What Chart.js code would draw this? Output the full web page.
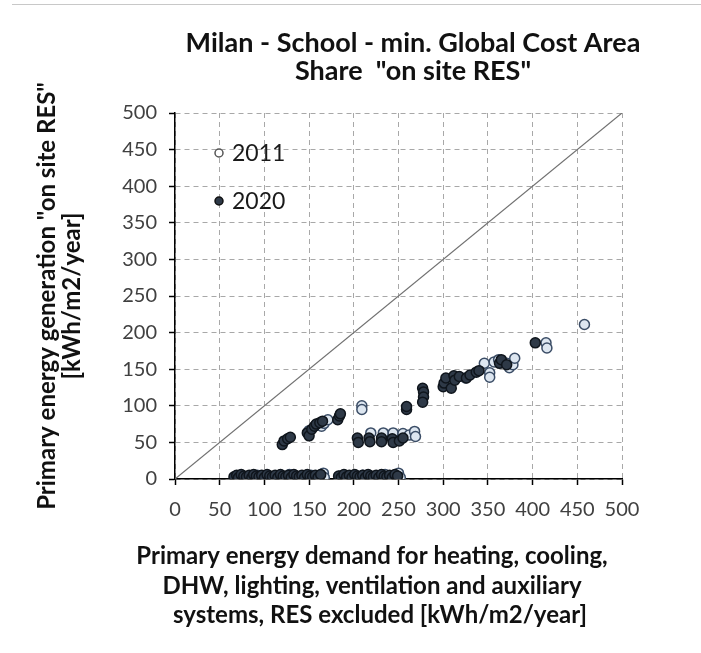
<!DOCTYPE html>
<html><head><meta charset="utf-8">
<script src="https://cdn.jsdelivr.net/npm/chart.js@4"></script>
<style>
html,body{margin:0;padding:0;background:#fff;}
#wrap{position:relative;width:701px;height:653px;}
#topline{position:absolute;left:12px;right:0;top:4px;height:1px;background:#c8c8c8;}
canvas{position:absolute;left:0;top:0;}
</style></head><body>
<div id="wrap"><canvas id="c" width="701" height="653"></canvas><div id="topline"></div></div>
<script>
const titleLines = ['Milan - School - min. Global Cost Area', 'Share  "on site RES"'];
const xTitleLines = ['Primary energy demand for heating, cooling,', 'DHW, lighting, ventilation and auxiliary', 'systems, RES excluded [kWh/m2/year]'];
const yTitleLines = ['Primary energy generation "on site RES"', '[kWh/m2/year]'];
const seriesNames = ['2011', '2020'];
const axisTicks = [0, 50, 100, 150, 200, 250, 300, 350, 400, 450, 500];
const diagonal = [0, 500];

const x2011 = [70, 80, 92, 104, 117, 128, 140, 152, 160, 166, 167, 185, 197, 210, 222, 235, 245, 250, 252,
  150, 160, 164, 167, 171, 209, 209, 219, 233, 244, 255, 262, 268, 269,
  325, 346, 352, 352, 357, 362, 371, 374, 378, 380, 415, 416, 458];
const y2011 = [4, 3, 5, 2, 4, 6, 3, 5, 4, 8, 2, 4, 3, 5, 2, 6, 4, 8, 2,
  66, 74, 72, 76, 81, 100, 95, 63, 63, 63, 62, 60, 65, 58,
  138, 158, 145, 139, 160, 163, 158, 152, 156, 165, 186, 179, 211];

const x2020 = [66, 69, 71, 74, 77, 80, 83, 86, 88, 91, 94, 97, 100, 103, 106, 109, 112, 115, 118, 121, 124, 127, 130, 133, 136, 139, 142, 145, 148, 151, 154, 157, 160, 163,
  183, 186, 189, 192, 195, 198, 201, 204, 207, 210, 213, 216, 219, 222, 225, 228, 231, 234, 237, 240, 243, 246, 249,
  120, 122, 126, 129, 148, 150, 153, 156, 158, 162, 165, 182, 184, 185,
  204, 205, 217, 218, 231, 231, 243, 244, 251, 255,
  259, 259, 277, 278, 278, 277,
  300, 301, 303, 309, 312, 313, 318, 326, 330, 337, 340, 363, 365, 371, 403];
const y2020 = [3, 5, 2, 6, 4, 3, 5, 2, 6, 4, 3, 5, 2, 6, 4, 3, 5, 2, 6, 4, 3, 5, 2, 6, 4, 3, 5, 2, 6, 4, 3, 5, 2, 6,
  4, 2, 6, 3, 5, 2, 6, 4, 3, 5, 2, 6, 4, 3, 5, 2, 6, 4, 3, 5, 2, 6, 4,
  47, 52, 55, 57, 63, 59, 68, 72, 75, 77, 79, 81, 86, 89,
  56, 50, 56, 51, 56, 51, 55, 50, 52, 56,
  95, 99, 124, 119, 112, 105,
  126, 131, 138, 124, 141, 135, 140, 138, 142, 146, 148, 158, 163, 156, 186];

const toPts = (xs, ys) => xs.map((x, i) => ({x: x, y: ys[i]}));

const FONT = 'Lato, "Open Sans", sans-serif';

const textPlugin = {
  id: 'textPlugin',
  afterDraw(chart) {
    const ctx = chart.ctx;
    ctx.save();
    ctx.fillStyle = '#111';
    ctx.textAlign = 'center';
    ctx.textBaseline = 'middle';
    ctx.font = 'bold 27px ' + FONT;
    ctx.fillText(titleLines[0], 413, 43);
    ctx.fillText(titleLines[1], 413, 71);
    ctx.font = 'bold 24px ' + FONT;
    ctx.fillStyle = '#111';
    ctx.fillText(xTitleLines[0], 372, 556);
    ctx.fillText(xTitleLines[1], 372, 586);
    ctx.fillText(xTitleLines[2], 380, 615);
    const items = [
      {y: 153, fill: '#ffffff', stroke: '#555555', label: seriesNames[0]},
      {y: 201, fill: '#2e3947', stroke: '#111111', label: seriesNames[1]}
    ];
    items.forEach(it => {
      ctx.beginPath();
      ctx.arc(219, it.y, 4, 0, Math.PI * 2);
      ctx.fillStyle = it.fill;
      ctx.fill();
      ctx.lineWidth = 1.5;
      ctx.strokeStyle = it.stroke;
      ctx.stroke();
      ctx.fillStyle = '#1a1a1a';
      ctx.textAlign = 'left';
      ctx.font = '23px ' + FONT;
      ctx.fillText(it.label, 232, it.y + 1);
    });
    ctx.restore();
  }
};

const axisCommon = {
  type: 'linear',
  min: 0,
  max: 500,
  afterBuildTicks: (s) => { s.ticks = axisTicks.map(v => ({value: v})); },
  ticks: {font: {family: FONT, size: 20}, color: '#404040'},
  grid: {color: '#a8a8a8', lineWidth: 1, tickColor: '#000', tickLength: 6, tickWidth: 1.5, tickBorderDash: []},
  border: {display: true, color: '#000', width: 1.5, dash: [5, 4]}
};

new Chart(document.getElementById('c'), {
  type: 'scatter',
  data: {
    datasets: [
      {
        label: seriesNames[1],
        data: toPts(x2020, y2020),
        order: 1,
        pointRadius: 5,
        pointBorderWidth: 1.5,
        backgroundColor: '#2e3947',
        borderColor: '#0f151c'
      },
      {
        label: seriesNames[0],
        data: toPts(x2011, y2011),
        order: 2,
        pointRadius: 5,
        pointBorderWidth: 1.5,
        backgroundColor: '#dde6f0',
        borderColor: '#3b4d66'
      },
      {
        label: 'diag',
        type: 'line',
        data: toPts(diagonal, diagonal),
        order: 3,
        showLine: true,
        pointRadius: 0,
        borderColor: '#707070',
        borderWidth: 1.2
      }
    ]
  },
  options: {
    responsive: false,
    animation: false,
    devicePixelRatio: 1,
    layout: {padding: {top: 113, right: 79, bottom: 0, left: 0}},
    plugins: {legend: {display: false}, tooltip: {enabled: false}, title: {display: false}},
    scales: {
      x: Object.assign({}, axisCommon, {
        position: 'bottom',
        ticks: Object.assign({}, axisCommon.ticks, {padding: 13}),
        afterFit: (s) => { s.height = 174; }
      }),
      y: Object.assign({}, axisCommon, {
        position: 'left',
        ticks: Object.assign({}, axisCommon.ticks, {padding: 12}),
        title: {
          display: true,
          text: yTitleLines,
          color: '#111',
          font: {family: FONT, size: 24, weight: 'bold', lineHeight: 25 / 24},
          padding: {top: 34.5, bottom: 0}
        },
        afterFit: (s) => { s.width = 175; }
      })
    }
  },
  plugins: [textPlugin]
});
</script>
</body></html>
